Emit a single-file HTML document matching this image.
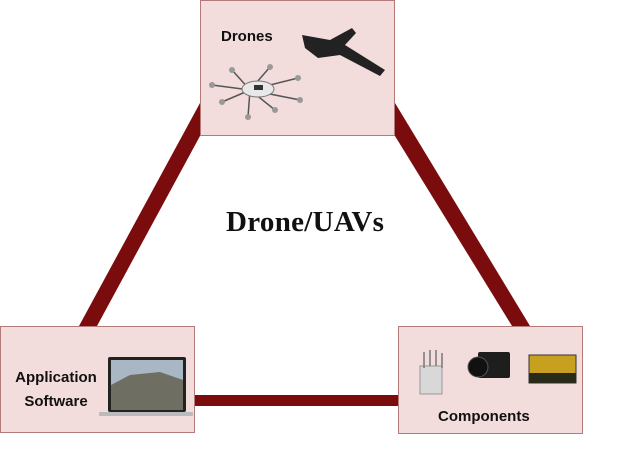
<!DOCTYPE html>
<html><head><meta charset="utf-8"><style>
body{margin:0;width:620px;height:450px;background:#fff;overflow:hidden;position:relative;font-family:"Liberation Sans",sans-serif}
.box{position:absolute;background:#f3dcdc;border:1px solid #b47a7a;box-sizing:border-box}
.lbl{position:absolute;font-weight:bold;font-size:15px;color:#111}
</style></head><body>
<svg width="620" height="450" style="position:absolute;left:0;top:0">
<polygon points="200,103 200,136 97,326 79,326" fill="#7b0c0e"/>
<polygon points="395,103 395,136 512,326 530,326" fill="#7b0c0e"/>
<rect x="190" y="395" width="215" height="11" fill="#7b0c0e"/>
</svg>
<div class="box" style="left:200px;top:0;width:195px;height:136px"></div>
<div class="box" style="left:0;top:326px;width:195px;height:107px"></div>
<div class="box" style="left:398px;top:326px;width:185px;height:108px"></div>
<div class="lbl" style="left:221px;top:28px">Drones</div>
<div class="lbl" style="left:0;width:112px;text-align:center;top:366px;line-height:24px">Application<br>Software</div>
<div class="lbl" style="left:438px;top:408px">Components</div>
<div style="position:absolute;left:226px;top:206px;font:bold 29px 'Liberation Serif',serif;color:#111;letter-spacing:0.3px">Drone/UAVs</div>
<svg width="620" height="450" style="position:absolute;left:0;top:0">
<path d="M302,35 L330,40 L352,28 L356,33 L345,45 L385,70 L380,76 L340,55 L318,58 L305,48 Z" fill="#222"/>
<g stroke="#555" stroke-width="1.5" fill="none">
<line x1="250" y1="90" x2="212" y2="85"/><line x1="250" y1="90" x2="222" y2="102"/>
<line x1="250" y1="90" x2="232" y2="70"/><line x1="250" y1="90" x2="270" y2="67"/>
<line x1="250" y1="90" x2="298" y2="78"/><line x1="250" y1="90" x2="300" y2="100"/>
<line x1="250" y1="90" x2="275" y2="110"/><line x1="250" y1="90" x2="248" y2="117"/>
</g>
<ellipse cx="258" cy="89" rx="16" ry="8" fill="#e8e8e8" stroke="#777"/>
<rect x="254" y="85" width="9" height="5" fill="#333"/>
<g fill="#999"><circle cx="212" cy="85" r="3"/><circle cx="222" cy="102" r="3"/><circle cx="232" cy="70" r="3"/><circle cx="270" cy="67" r="3"/><circle cx="298" cy="78" r="3"/><circle cx="300" cy="100" r="3"/><circle cx="275" cy="110" r="3"/><circle cx="248" cy="117" r="3"/></g>
<rect x="108" y="357" width="78" height="55" rx="2" fill="#222"/>
<rect x="111" y="360" width="72" height="50" fill="#a9b7c4"/>
<path d="M111,385 L130,375 L160,372 L183,380 L183,410 L111,410 Z" fill="#6e6e62"/>
<rect x="99" y="412" width="94" height="4" rx="1" fill="#bbb"/>
<rect x="420" y="366" width="22" height="28" fill="#d8d8d8" stroke="#999"/>
<g stroke="#777" stroke-width="1.5"><line x1="424" y1="352" x2="424" y2="368"/><line x1="430" y1="350" x2="430" y2="366"/><line x1="436" y1="350" x2="436" y2="366"/><line x1="442" y1="353" x2="442" y2="368"/></g>
<rect x="478" y="352" width="32" height="26" rx="2" fill="#1e1e1e"/>
<circle cx="478" cy="367" r="10" fill="#111" stroke="#555"/>
<rect x="529" y="355" width="47" height="28" fill="#c8a020" stroke="#333"/>
<rect x="529" y="373" width="47" height="10" fill="#2a2a1a"/>
</svg>
</body></html>
